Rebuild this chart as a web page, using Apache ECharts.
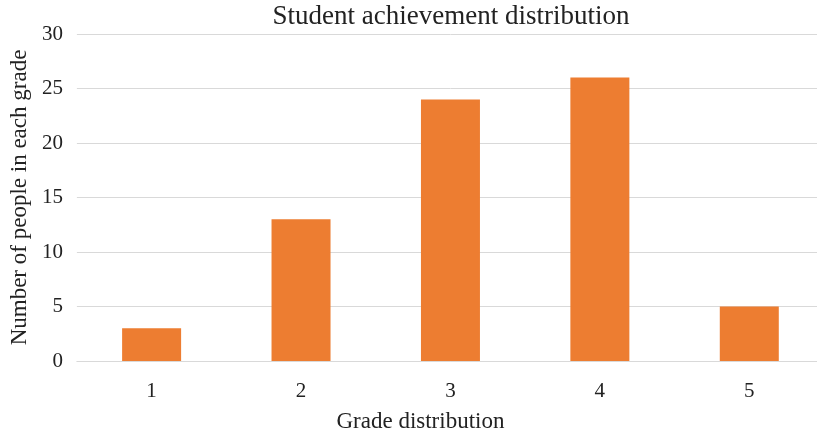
<!DOCTYPE html>
<html>
<head>
<meta charset="utf-8">
<script src="https://cdn.jsdelivr.net/npm/echarts@6/dist/echarts.min.js"></script>
<style>html,body{margin:0;padding:0;background:#fff;overflow:hidden}#c{width:824px;height:438px}</style>
</head>
<body>
<div id="c"></div>
<script>
const categories = ['1', '2', '3', '4', '5'];
const counts = [3, 13, 24, 26, 5];
const titleText = 'Student achievement distribution';
const xName = 'Grade distribution';
const yName = 'Number of people in each grade';

const FONT = '"Liberation Serif", "Times New Roman", serif';
const chart = echarts.init(document.getElementById('c'));
chart.setOption({
  animation: false,
  backgroundColor: '#fff',
  title: {
    text: titleText,
    left: 446, top: -2, textAlign: 'center',
    textStyle: { fontFamily: FONT, fontSize: 27, fontWeight: 'normal', color: '#222' }
  },
  grid: { left: 74, right: 0, top: 34, bottom: 77, containLabel: false },
  xAxis: {
    type: 'category',
    data: categories,
    name: xName,
    nameLocation: 'middle',
    nameGap: 49,
    nameTextStyle: { fontFamily: FONT, fontSize: 23, color: '#222', padding: [0, 60, 0, 0] },
    axisLine: { lineStyle: { color: '#d9d9d9', width: 1 } },
    axisTick: { show: false },
    axisLabel: { fontFamily: FONT, fontSize: 21, color: '#222', margin: 20 }
  },
  yAxis: {
    type: 'value',
    min: 0, max: 30, interval: 5,
    name: yName,
    nameLocation: 'middle',
    nameGap: 43,
    nameTextStyle: { fontFamily: FONT, fontSize: 23, color: '#222' },
    axisLine: { show: false },
    axisTick: { show: false },
    axisLabel: { fontFamily: FONT, fontSize: 21, color: '#222', margin: 14 },
    splitLine: { lineStyle: { color: '#d9d9d9', width: 1 } }
  },
  series: [{
    type: 'bar',
    data: counts,
    barWidth: 59,
    itemStyle: { color: '#ED7D31' }
  }]
});
</script>
</body>
</html>
